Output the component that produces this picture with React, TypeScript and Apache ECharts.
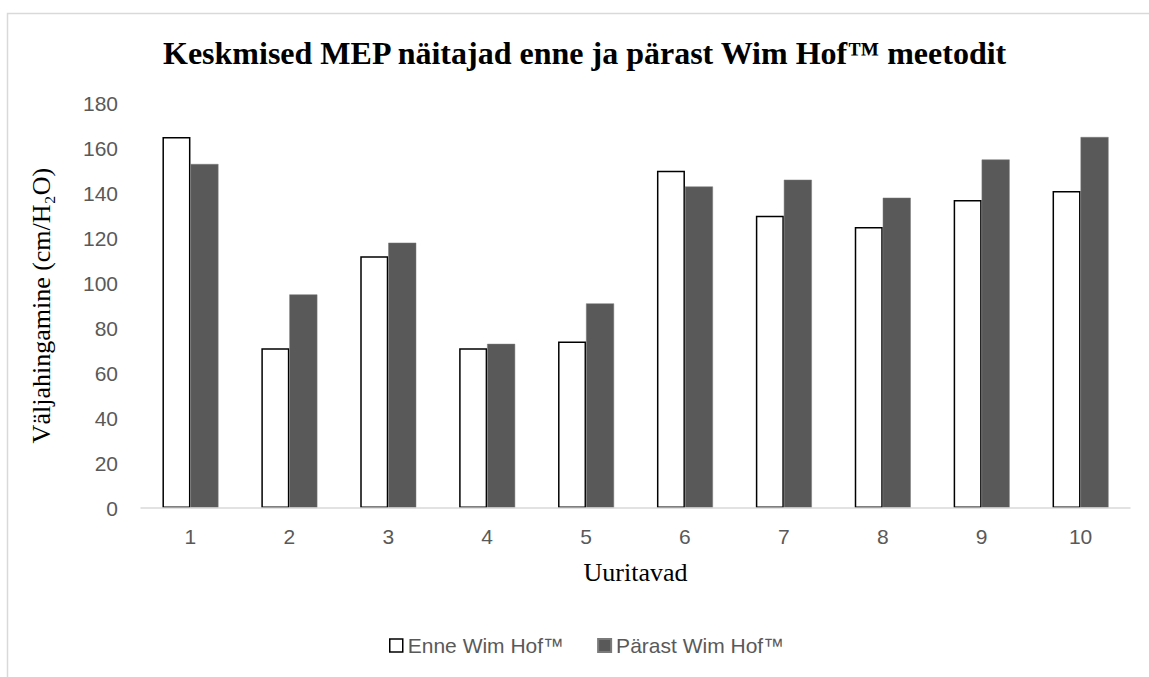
import React, { useEffect, useRef } from "react";
import * as echarts from "echarts";

const categories = ["1", "2", "3", "4", "5", "6", "7", "8", "9", "10"];
const enne = [165, 71, 112, 71, 74, 150, 130, 125, 137, 141];
const parast = [153, 95, 118, 73, 91, 143, 146, 138, 155, 165];
const seriesNames = ["Enne Wim Hof™", "Pärast Wim Hof™"];
const titleText = "Keskmised MEP näitajad enne ja pärast Wim Hof™ meetodit";
const yName = "Väljahingamine (cm/H₂O)";
const xName = "Uuritavad";

const SERIF = "'Liberation Serif', 'Times New Roman', serif";
const SANS = "'Liberation Sans', Arial, sans-serif";

export default function App() {
  const ref = useRef<HTMLDivElement>(null);
  useEffect(() => {
    if (!ref.current) return;
    const chart = echarts.init(ref.current, undefined, { renderer: "svg" });
    chart.setOption({
      animation: false,
      backgroundColor: "#ffffff",
      title: {
        text: titleText,
        left: 158,
        top: 32,
        textStyle: { fontFamily: SERIF, fontSize: 32, fontWeight: "bold", color: "#000000" },
      },
      graphic: [
        {
          type: "rect",
          shape: { x: 7.5, y: 13.5, width: 1300, height: 900 },
          style: { fill: "none", stroke: "#d9d9d9", lineWidth: 1.5 },
          silent: true,
          z: -1,
        },
      ],
      legend: {
        top: 630,
        left: 384,
        itemWidth: 13,
        itemHeight: 13,
        itemGap: 33,
        icon: "rect",
        textStyle: { fontFamily: SANS, fontSize: 21, color: "#595959" },
        data: [
          { name: seriesNames[0], itemStyle: { color: "#ffffff", borderColor: "#000000", borderWidth: 1.5 } },
          { name: seriesNames[1], itemStyle: { color: "#595959" } },
        ],
      },
      grid: { left: 141, right: 19, top: 103.3, bottom: 169, containLabel: false },
      xAxis: {
        type: "category",
        data: categories,
        name: xName,
        nameLocation: "middle",
        nameGap: 51,
        nameTextStyle: { fontFamily: SERIF, fontSize: 26, color: "#000000" },
        axisLine: { lineStyle: { color: "#d9d9d9", width: 1.5 } },
        axisTick: { show: false },
        axisLabel: { fontFamily: SANS, fontSize: 21, color: "#595959", margin: 18 },
        z: 5,
      },
      yAxis: {
        type: "value",
        min: 0,
        max: 180,
        interval: 20,
        name: yName,
        nameLocation: "middle",
        nameGap: 87,
        nameTextStyle: { fontFamily: SERIF, fontSize: 26, color: "#000000" },
        axisLine: { show: false },
        axisTick: { show: false },
        splitLine: { show: false },
        axisLabel: { fontFamily: SANS, fontSize: 21, color: "#595959", margin: 23 },
      },
      series: [
        {
          name: seriesNames[0],
          type: "bar",
          data: enne,
          barWidth: 28,
          barGap: "0%",
          itemStyle: { color: "#ffffff", borderColor: "#000000", borderWidth: 1.5 },
        },
        {
          name: seriesNames[1],
          type: "bar",
          data: parast,
          barWidth: 28,
          barGap: "0%",
          itemStyle: { color: "#595959", borderColor: "#7a7a7a", borderWidth: 0.5 },
        },
      ],
    });
    return () => chart.dispose();
  }, []);
  return (
    <div
      ref={ref}
      style={{ position: "absolute", left: 0, top: 0, width: 1149, height: 677 }}
    />
  );
}
